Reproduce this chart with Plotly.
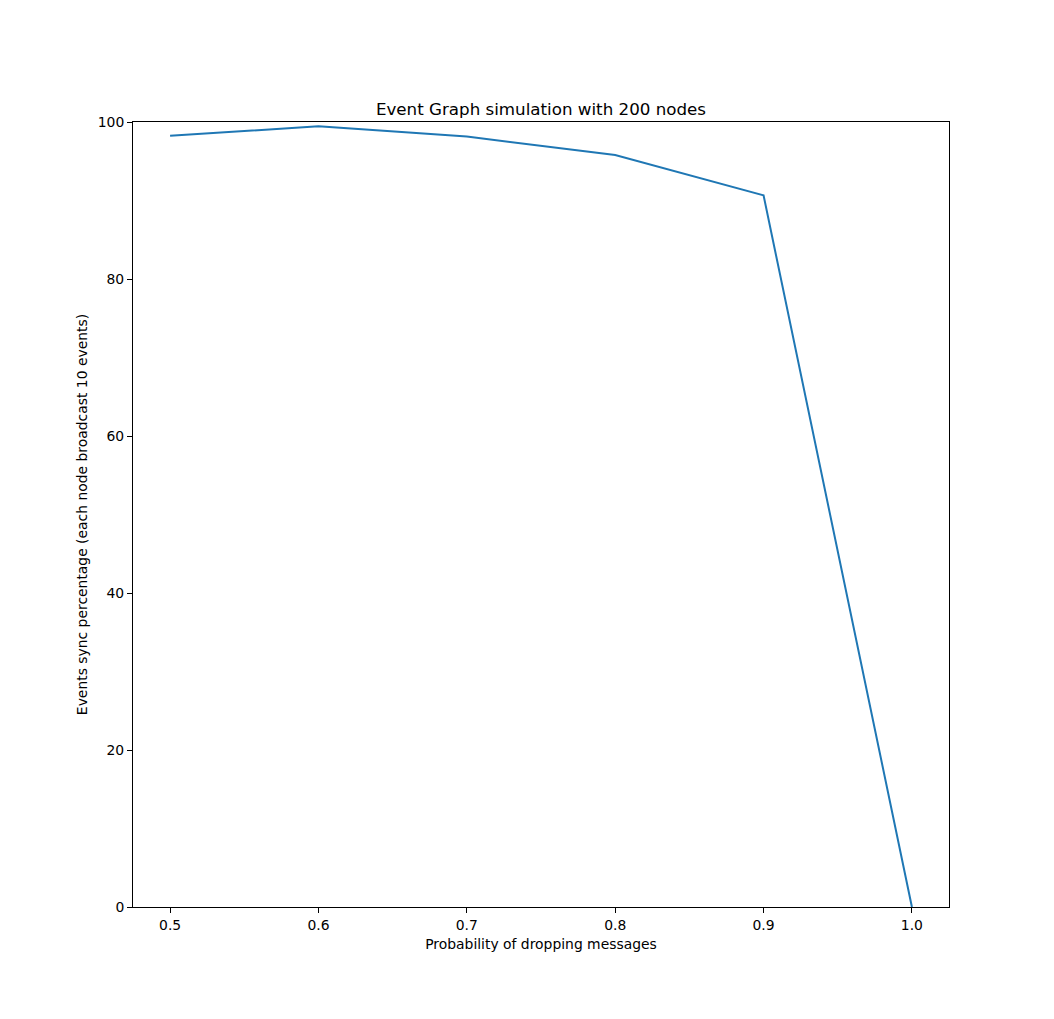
import plotly.graph_objects as go

drop_prob = [0.5, 0.6, 0.7, 0.8, 0.9, 1.0]
sync_pct = [98.25, 99.45, 98.15, 95.8, 90.65, 0.0]
x_ticks = [0.5, 0.6, 0.7, 0.8, 0.9, 1.0]
x_tick_labels = ["0.5", "0.6", "0.7", "0.8", "0.9", "1.0"]
y_ticks = [0, 20, 40, 60, 80, 100]

fig = go.Figure()
fig.add_trace(go.Scatter(x=drop_prob, y=sync_pct, mode="lines",
                         line=dict(color="#1f77b4", width=2), showlegend=False))

f14 = dict(family="DejaVu Sans", size=13.9, color="black")
fig.update_layout(
    width=1054, height=1019,
    margin=dict(l=125, r=113, t=114, b=120),
    paper_bgcolor="white", plot_bgcolor="white",
    font=f14,
    title=dict(text="Event Graph simulation with 200 nodes", x=0.5, xref="paper",
               xanchor="center", y=1, yref="paper", yanchor="bottom",
               pad=dict(b=7), font=dict(family="DejaVu Sans", size=16.7, color="black")),
    xaxis=dict(range=[0.475, 1.025], tickvals=x_ticks, ticktext=x_tick_labels,
               tickfont=f14,
               showgrid=False, zeroline=False, showline=True, mirror=True,
               linecolor="black", linewidth=1, ticks="outside", ticklen=5,
               tickcolor="black",
               title=dict(text="Probability of dropping messages", standoff=7, font=f14)),
    yaxis=dict(range=[0, 100], tickvals=y_ticks, tickfont=f14,
               showgrid=False, zeroline=False,
               showline=True, mirror=True, linecolor="black", linewidth=1,
               ticks="outside", ticklen=5, tickcolor="black",
               title=dict(text="Events sync percentage (each node broadcast 10 events)",
                          standoff=6, font=f14)),
)
fig.write_html("out.html")
